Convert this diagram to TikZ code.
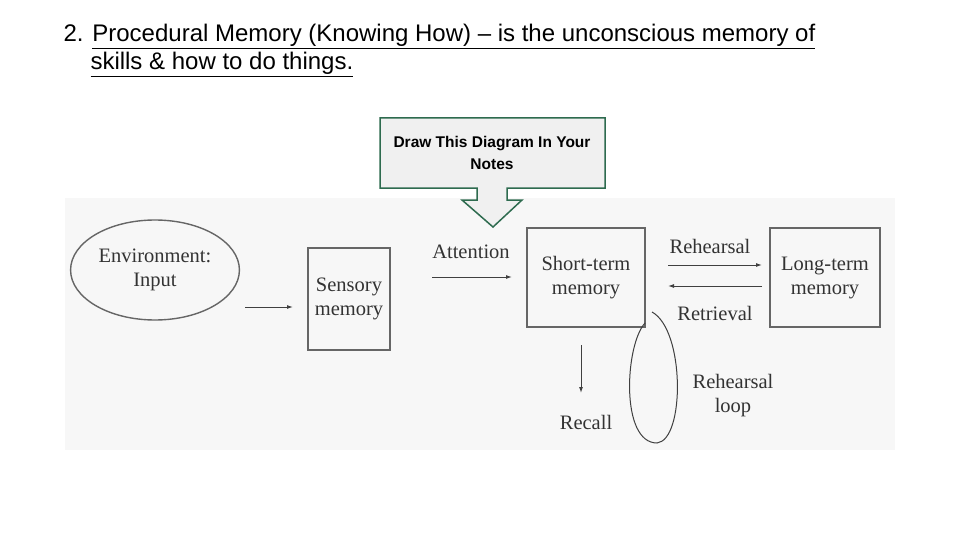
\documentclass[tikz,border=0pt]{standalone}
\usepackage{fontspec}
\setmainfont{Liberation Serif}
\newfontfamily\titlefont{Liberation Sans}
\usetikzlibrary{arrows.meta,shapes.geometric}
\definecolor{calloutgreen}{HTML}{2E6B4F}
\tikzset{
    > = latex
}

\begin{document}
\begin{tikzpicture}[x=1pt,y=-1pt,line width=1]
        \tikzstyle{box}=[draw=black!60,line width=1.4,minimum width=82,minimum height=100,align=center,font=\fontsize{20.5}{24}\selectfont,text=black!80]
        \tikzstyle{lbl}=[align=center,font=\fontsize{20.5}{24}\selectfont,text=black!80]
        \tikzstyle{arr}=[->,>={Latex[length=6,width=4]},black!75]
        \useasboundingbox (0,0) rectangle (960,540);
        \fill[black!3] (65,198) rectangle (895,450);
        % title
        \node[anchor=base west,font=\titlefont\fontsize{24}{28}\selectfont,inner sep=0] (t1) at (63,42)
            {2. \underline{Procedural Memory (Knowing How) – is the unconscious memory of}};
        \node[anchor=base west,font=\titlefont\fontsize{24}{28}\selectfont,inner sep=0] (t2) at (90,70)
            {\underline{skills \& how to do things.}};
        % callout
        \draw[calloutgreen,fill=black!6,line width=1.5] (380,118) -- (605,118) -- (605,188) -- (507,188)
            -- (507,200) -- (522,200) -- (493,227) -- (462,200) -- (477,200) -- (477,188) -- (380,188) -- cycle;
        \node[font=\titlefont\bfseries\fontsize{15.5}{22}\selectfont,align=center] (note) at (492,153)
            {Draw This Diagram In Your\\Notes};
        % diagram
        \node[draw=black!60,line width=1.4,ellipse,minimum width=146,minimum height=100,lbl] (env) at (155,270)
            {Environment:\\Input};
        \node[box,minimum width=82,minimum height=102] (sens) at (349,299) {Sensory\\memory};
        \node[box,minimum width=118,minimum height=99] (stm) at (586,277.5) {Short-term\\memory};
        \node[box,minimum width=110,minimum height=99] (ltm) at (825,277.5) {Long-term\\memory};
        \coordinate (a1) at (245,307);
        \coordinate (a2) at (293,307);
        \draw[arr] (a1) -- (a2);
        \coordinate (b1) at (432,277);
        \coordinate (b2) at (512,277);
        \draw[arr] (b1) -- (b2);
        \node[lbl] (att) at (471,252) {Attention};
        \coordinate (c1) at (668,265);
        \coordinate (c2) at (762,265);
        \draw[arr] (c1) -- (c2);
        \node[lbl] (reh) at (710,246) {Rehearsal};
        \coordinate (d1) at (762,286);
        \coordinate (d2) at (668,286);
        \draw[arr] (d1) -- (d2);
        \node[lbl] (ret) at (715,313) {Retrieval};
        \coordinate (e1) at (581,345);
        \coordinate (e2) at (581,393);
        \draw[arr] (e1) -- (e2);
        \node[lbl] (rec) at (586,422) {Recall};
        \draw[black!75] (652,312) .. controls (685,330) and (685,440) .. (657,443)
            .. controls (620,443) and (625,345) .. (645,323);
        \node[lbl] (loop) at (733,396) {Rehearsal\\loop};
    \end{tikzpicture}
\end{document}
